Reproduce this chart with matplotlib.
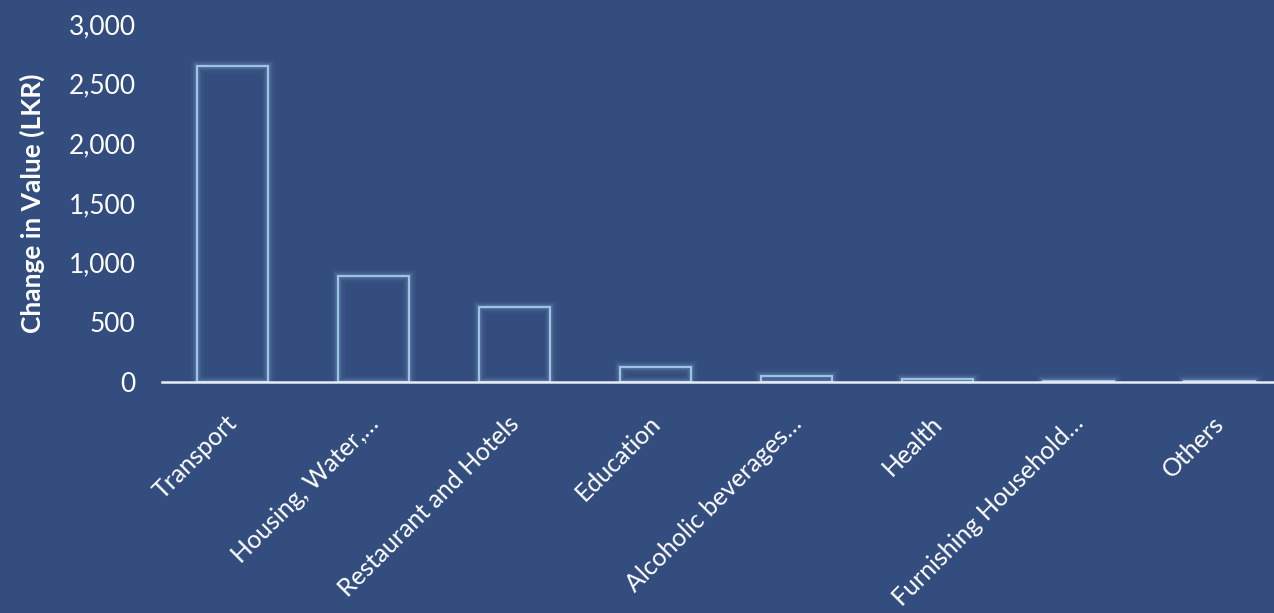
import numpy as np
import matplotlib.pyplot as plt
from matplotlib.transforms import ScaledTranslation

# data
categories = ["Transport", "Housing, Water,…", "Restaurant and Hotels", "Education",
              "Alcoholic beverages…", "Health", "Furnishing Household…", "Others"]
values = [2650, 885, 630, 125, 50, 22, 10, 5]
y_ticks = [0, 500, 1000, 1500, 2000, 2500, 3000]

bg = "#334d7e"
edge = "#9dc3e6"

plt.rcParams['font.family'] = ['Lato', 'DejaVu Sans']

fig = plt.figure(figsize=(12.74, 6.13), dpi=100, facecolor=bg)
ax = fig.add_axes([162/1274, 1 - 382/613, (1290 - 162)/1274, (382 - 24)/613])
ax.set_facecolor(bg)

x = np.arange(len(categories))

# soft glow around the bars
for lw, a in [(9, 0.05), (6, 0.08), (4, 0.12)]:
    ax.bar(x, values, width=0.5, facecolor="none", edgecolor=edge, linewidth=lw, alpha=a)
ax.bar(x, values, width=0.5, facecolor="none", edgecolor=edge, linewidth=1.6)

ax.set_xlim(-0.5, len(categories) - 0.5)
ax.set_ylim(0, 3000)
ax.set_yticks(y_ticks)
ax.set_yticklabels([f"{v:,}" for v in y_ticks])
ax.set_xticks(x)
ax.set_xticklabels(categories, rotation=45, ha="right", va="top", rotation_mode="anchor")

ax.tick_params(axis="y", length=0, pad=19, labelsize=19, labelcolor="white")
ax.tick_params(axis="x", length=0, pad=14, labelsize=18, labelcolor="white")

# nudge the slanted labels like excel places them
shift = ScaledTranslation(-0.07, -0.10, fig.dpi_scale_trans)
for lab in ax.get_xticklabels():
    lab.set_transform(lab.get_transform() + shift)

for s in ["top", "right", "left"]:
    ax.spines[s].set_visible(False)
ax.spines["bottom"].set_color("#e8edf5")
ax.spines["bottom"].set_linewidth(1.8)
ax.spines["bottom"].set_zorder(5)

ax.set_ylabel("Change in Value (LKR)", color="white", fontsize=19, fontweight="bold", labelpad=17)

fig.savefig("out.png", dpi=100, facecolor=bg)
